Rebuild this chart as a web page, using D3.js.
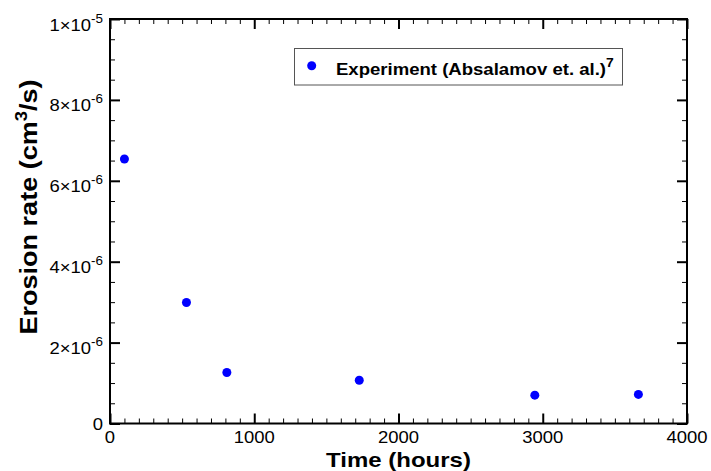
<!DOCTYPE html>
<html>
<head>
<meta charset="utf-8">
<script src="https://cdn.jsdelivr.net/npm/d3@7"></script>
<style>
  body { margin: 0; background: #fff; }
  svg { display: block; font-family: "Liberation Sans", Arial, sans-serif; }
</style>
</head>
<body>
<div id="app"></div>
<script>
// measured data (hours vs erosion rate cm^3/s)
const hours = [100, 530, 810, 1728, 2945, 3663];
const rates = [6.54e-6, 2.99e-6, 1.26e-6, 1.07e-6, 0.70e-6, 0.72e-6];

const xTicks = [0, 1000, 2000, 3000, 4000];
const yTicks = [0, 2e-6, 4e-6, 6e-6, 8e-6, 1e-5];
const yMant = ['0', '2', '4', '6', '8', '1'];
const yExp = ['', '-6', '-6', '-6', '-6', '-5'];

const legendLabel = 'Experiment (Absalamov et. al.)';
const legendSup = '7';

const width = 711;
const height = 471;
const margin = { top: 19, right: 24, bottom: 47.5, left: 110 };

// the original fonts are a bit wider than Liberation Sans
const stretch = 1.12;

const svg = d3.select('#app')
  .append('svg')
  .attr('width', width)
  .attr('height', height);

const xScale = d3.scaleLinear()
  .domain([0, 4000])
  .range([margin.left, width - margin.right]);

const yScale = d3.scaleLinear()
  .domain([0, 1e-5])
  .range([height - margin.bottom, margin.top]);

const x0 = xScale.range()[0], x1 = xScale.range()[1];
const y0 = yScale.range()[0], y1 = yScale.range()[1];

// x minor every 100 h, y minor every 0.5e-6
const xMinor = d3.range(0, 4001, 100).filter(v => v % 1000 !== 0);
const yMinor = d3.range(1, 20).map(i => i * 0.5e-6).filter((v, i) => (i + 1) % 4 !== 0);

// ticks, all pointing inward
const addAxis = (axis, tx, ty, size, vals, sw) => {
  const g = svg.append('g')
    .attr('transform', `translate(${tx},${ty})`)
    .call(axis.tickValues(vals).tickSize(size).tickFormat(''));
  g.select('.domain').remove();
  g.selectAll('line').attr('stroke', '#000').attr('stroke-width', sw);
};

addAxis(d3.axisBottom(xScale), 0, y0, -5, xMinor, 1);
addAxis(d3.axisBottom(xScale), 0, y0, -10, xTicks, 2);
addAxis(d3.axisTop(xScale), 0, y1, -5, xMinor, 1);
addAxis(d3.axisTop(xScale), 0, y1, -10, xTicks, 2);
addAxis(d3.axisLeft(yScale), x0, 0, -5, yMinor, 1);
addAxis(d3.axisLeft(yScale), x0, 0, -10, yTicks, 2);
addAxis(d3.axisRight(yScale), x1, 0, -5, yMinor, 1);
addAxis(d3.axisRight(yScale), x1, 0, -10, yTicks, 2);

// frame
svg.append('rect')
  .attr('x', x0)
  .attr('y', y1)
  .attr('width', x1 - x0)
  .attr('height', y0 - y1)
  .attr('fill', 'none')
  .attr('stroke', '#000')
  .attr('stroke-width', 2);

// x tick labels
svg.selectAll('.xlab')
  .data(xTicks)
  .enter()
  .append('text')
  .attr('class', 'xlab')
  .attr('transform', d => `translate(${xScale(d)},${y0 + 19.5}) scale(${stretch},1)`)
  .attr('text-anchor', 'middle')
  .attr('font-size', 16.5)
  .text(d => d);

// y tick labels with exponent
yTicks.forEach((v, i) => {
  const dy = yExp[i] === '' ? 6.5 : 11.5;
  const t = svg.append('text')
    .attr('transform', `translate(${x0 - 7},${yScale(v) + dy}) scale(${stretch},1)`)
    .attr('text-anchor', 'end')
    .attr('font-size', 16.5);
  if (yExp[i] === '') {
    t.text(yMant[i]);
    return;
  }
  t.append('tspan').text(yMant[i] + '\u00d710');
  t.append('tspan')
    .attr('font-size', 12)
    .attr('dy', -8)
    .text(yExp[i]);
});

// stretch a text horizontally to a target width
const fitTo = (sel, tx, ty, rot, target) => {
  const w = sel.node().getComputedTextLength();
  sel.attr('transform', `translate(${tx},${ty}) rotate(${rot}) scale(${target / w},1)`);
};

// axis titles
const xTitle = svg.append('text')
  .attr('text-anchor', 'middle')
  .attr('font-size', 19.5)
  .attr('font-weight', 'bold')
  .text('Time (hours)');
fitTo(xTitle, (x0 + x1) / 2, 466.5, 0, 145);

const yTitle = svg.append('text')
  .attr('text-anchor', 'middle')
  .attr('font-size', 23.5)
  .attr('font-weight', 'bold');
yTitle.append('tspan').text('Erosion rate (cm');
yTitle.append('tspan').attr('font-size', 16).attr('dy', -10).text('3');
yTitle.append('tspan').attr('dy', 10).text('/s)');
fitTo(yTitle, 37, 207, -90, 255);

// points
svg.selectAll('.dot')
  .data(hours.map((h, i) => ({ h, r: rates[i] })))
  .enter()
  .append('circle')
  .attr('class', 'dot')
  .attr('cx', d => xScale(d.h))
  .attr('cy', d => yScale(d.r))
  .attr('r', 4.5)
  .attr('fill', '#0000ff');

// legend
const legend = svg.append('g');
legend.append('rect')
  .attr('x', 294.5)
  .attr('y', 48.5)
  .attr('width', 328)
  .attr('height', 36.5)
  .attr('fill', '#fff')
  .attr('stroke', '#555')
  .attr('stroke-width', 1);
legend.append('circle')
  .attr('cx', 311.7)
  .attr('cy', 65.7)
  .attr('r', 4.5)
  .attr('fill', '#0000ff');
const lt = legend.append('text')
  .attr('font-size', 16)
  .attr('font-weight', 'bold');
lt.append('tspan').text(legendLabel);
lt.append('tspan').attr('font-size', 12).attr('dy', -8).text(legendSup);
fitTo(lt, 336, 75, 0, 278);
</script>
</body>
</html>
